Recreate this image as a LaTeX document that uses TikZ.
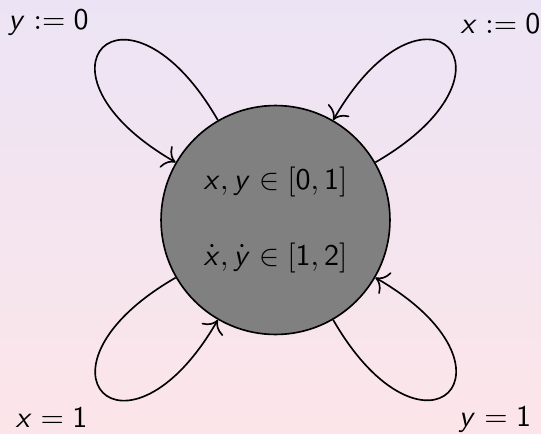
\documentclass[tikz,border=0pt]{standalone}
\usepackage{amsmath}
\usetikzlibrary{arrows.meta}
\DeclareMathAlphabet{\mathsl}{OT1}{cmss}{m}{sl}
\newcommand\vx{\mathsl{x}}
\newcommand\vy{\mathsl{y}}
\newcommand\dg[1]{\mathsf{#1}}
\definecolor{bgtop}{RGB}{236,228,245}
\definecolor{bgbot}{RGB}{252,229,233}
\begin{document}
\begin{tikzpicture}[x=0.3333pt,y=0.3333pt,
  statebox/.style={circle,draw=black,fill=black!50,line width=0.55pt,
    minimum size=76.3pt,inner sep=0pt,align=center,
    font=\fontsize{10}{25}\selectfont},
  lbl/.style={anchor=base,inner sep=0pt,font=\fontsize{10}{12}\selectfont},
  loopline/.style={-{To[scale=1.4]},line width=0.55pt}]
\useasboundingbox (0,0) rectangle (541,433);
\shade[top color=bgtop,bottom color=bgbot] (0,0) rectangle (541,433);
\node[statebox] (s) at (275.5,213) {$\vx,\vy\in[\dg0,\dg1]$\\$\dot\vx,\dot\vy\in[\dg1,\dg2]$};
\node[lbl] (l1) at (48.5,403) {$\vy:=\dg0$};
\node[lbl] (l2) at (500.5,399) {$\vx:=\dg0$};
\node[lbl] (l3) at (51.5,6) {$\vx=\dg1$};
\node[lbl] (l4) at (495,7) {$\vy=\dg1$};
\draw[loopline] (s.120) to[out=120,in=150,distance=61pt] (s.150);
\draw[loopline] (s.30) to[out=30,in=60,distance=61pt] (s.60);
\draw[loopline] (s.210) to[out=210,in=240,distance=61pt] (s.240);
\draw[loopline] (s.300) to[out=300,in=330,distance=61pt] (s.330);
\end{tikzpicture}
\end{document}
